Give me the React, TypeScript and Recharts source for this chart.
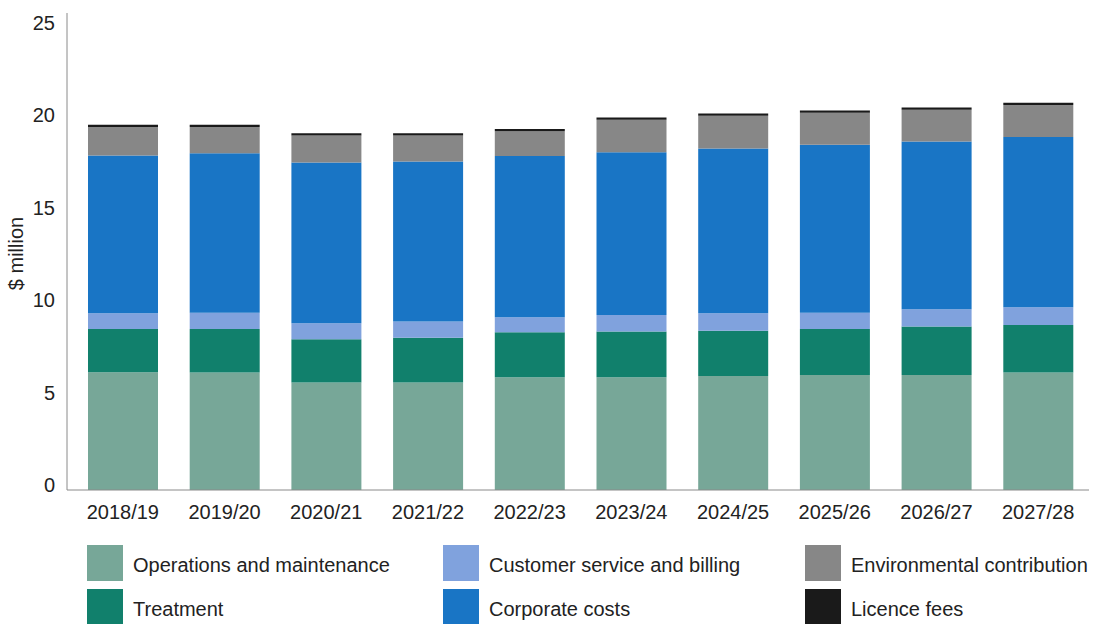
import React from "react";
import { BarChart, Bar, XAxis, YAxis, Legend } from "recharts";

const categories = ["2018/19", "2019/20", "2020/21", "2021/22", "2022/23", "2023/24", "2024/25", "2025/26", "2026/27", "2027/28"];
const operations = [6.37, 6.35, 5.81, 5.81, 6.10, 6.10, 6.17, 6.22, 6.22, 6.35];
const treatment = [2.34, 2.36, 2.34, 2.43, 2.43, 2.47, 2.45, 2.49, 2.62, 2.58];
const customerService = [0.85, 0.88, 0.87, 0.87, 0.82, 0.90, 0.94, 0.88, 0.94, 0.96];
const corporate = [8.53, 8.63, 8.69, 8.66, 8.72, 8.80, 8.91, 9.08, 9.07, 9.20];
const environmental = [1.54, 1.41, 1.47, 1.41, 1.34, 1.76, 1.77, 1.73, 1.72, 1.73];
const licence = [0.12, 0.12, 0.12, 0.12, 0.12, 0.12, 0.12, 0.12, 0.12, 0.12];
const yTicks = [0, 5, 10, 15, 20, 25];

const data = categories.map((c, i) => ({
  year: c,
  ops: operations[i],
  treat: treatment[i],
  cs: customerService[i],
  corp: corporate[i],
  env: environmental[i],
  lic: licence[i],
}));

const FONT = "'Liberation Sans', Arial, sans-serif";

const XTick = (props: any) => {
  const { x, y, payload } = props;
  return (
    <text x={x} y={y + 29} textAnchor="middle" fontFamily={FONT} fontSize={20} fill="#222">
      {payload.value}
    </text>
  );
};

const YTick = (props: any) => {
  const { y, payload } = props;
  return (
    <text x={55} y={y + 2} textAnchor="end" fontFamily={FONT} fontSize={20} fill="#222">
      {payload.value}
    </text>
  );
};

const legendOrder = ["ops", "treat", "cs", "corp", "env", "lic"];

const LegendContent = (props: any) => {
  const payload = (props.payload || []).slice().sort(
    (a: any, b: any) => legendOrder.indexOf(a.dataKey) - legendOrder.indexOf(b.dataKey)
  );
  return (
    <div
      style={{
        display: "grid",
        gridTemplateColumns: "356px 362px 290px",
        gridTemplateRows: "36px 36px",
        gridAutoFlow: "column",
        rowGap: 8,
        height: 80,
        fontFamily: FONT,
        fontSize: 20,
        color: "#222",
      }}
    >
      {payload.map((p: any) => (
        <div key={p.dataKey} style={{ display: "flex", alignItems: "center", height: 36 }}>
          <div style={{ width: 36, height: 36, background: p.color, marginRight: 10, flexShrink: 0 }} />
          <span style={{ whiteSpace: "nowrap", position: "relative", top: 2 }}>{p.value}</span>
        </div>
      ))}
    </div>
  );
};

export default function App() {
  return (
    <div style={{ position: "absolute", left: 0, top: 0, width: 1096, height: 624, background: "#fff" }}>
      <BarChart
        width={1096}
        height={624}
        data={data}
        margin={{ top: 13, right: 7, bottom: 24, left: 0 }}
        barSize={70}
      >
        <XAxis
          dataKey="year"
          height={30}
          tickLine={false}
          tickSize={0}
          tickMargin={0}
          axisLine={{ stroke: "#8a8a8a", strokeWidth: 1 }}
          padding={{ left: 5, right: 0 }}
          tick={<XTick />}
          interval={0}
        />
        <YAxis
          width={67}
          domain={[0, 25.8]}
          ticks={yTicks}
          tickLine={false}
          axisLine={{ stroke: "#8a8a8a", strokeWidth: 1 }}
          tick={<YTick />}
          allowDataOverflow
          label={{
            content: (p: any) => {
              const vb = p.viewBox || { x: 0, y: 13, width: 67, height: 477 };
              const cx = 16;
              const cy = vb.y + vb.height / 2 + 2;
              return (
                <text
                  x={cx}
                  y={cy}
                  transform={`rotate(-90, ${cx}, ${cy})`}
                  textAnchor="middle"
                  dominantBaseline="central"
                  fontFamily={FONT}
                  fontSize={20}
                  fill="#222"
                >
                  $ million
                </text>
              );
            },
          }}
        />
        <Legend
          verticalAlign="bottom"
          height={80}
          content={<LegendContent />}
          wrapperStyle={{ position: "absolute", left: 87, top: 545, width: 1009, height: 80, bottom: "auto" }}
        />
        <Bar dataKey="ops" name="Operations and maintenance" stackId="a" fill="#77a798" isAnimationActive={false} />
        <Bar dataKey="treat" name="Treatment" stackId="a" fill="#11806c" isAnimationActive={false} />
        <Bar dataKey="cs" name="Customer service and billing" stackId="a" fill="#80a2dd" isAnimationActive={false} />
        <Bar dataKey="corp" name="Corporate costs" stackId="a" fill="#1975c5" isAnimationActive={false} />
        <Bar dataKey="env" name="Environmental contribution" stackId="a" fill="#878787" isAnimationActive={false} />
        <Bar dataKey="lic" name="Licence fees" stackId="a" fill="#1a1a1a" isAnimationActive={false} />
      </BarChart>
    </div>
  );
}
